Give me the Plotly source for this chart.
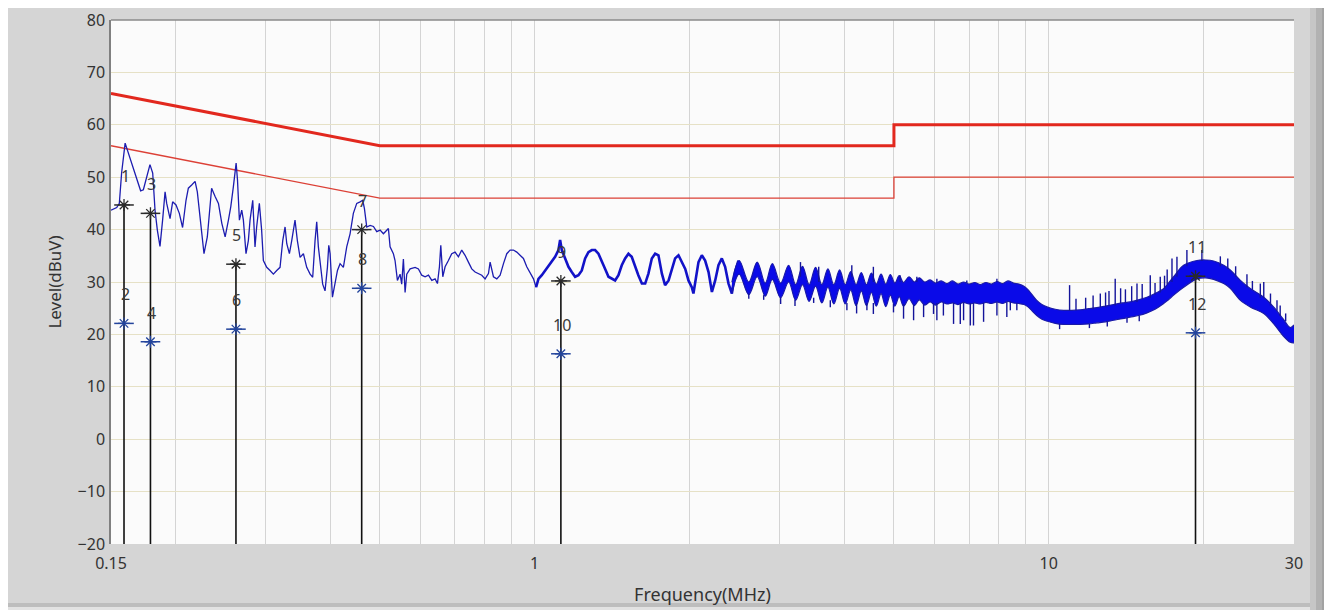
import math
import plotly.graph_objects as go

# ---------------- data ----------------
# measured trace, 0.15 - 1 MHz
freq_a = [0.150, 0.1539, 0.1557, 0.1573, 0.1598, 0.1622, 0.1646, 0.1683, 0.1713, 0.1734,
          0.1760, 0.1786, 0.1808, 0.1827, 0.1846, 0.1868, 0.1890, 0.1911, 0.1925, 0.1954,
          0.1977, 0.2007, 0.2037, 0.2067, 0.2099, 0.2121, 0.2153, 0.2186, 0.2208, 0.2235,
          0.2275, 0.2309, 0.2354, 0.2391, 0.2427, 0.2464, 0.2501, 0.2538, 0.2565, 0.2595,
          0.2627, 0.2643, 0.2666, 0.2694, 0.2714, 0.2746, 0.2775, 0.2796, 0.2830, 0.2859,
          0.2880, 0.2915, 0.2945, 0.2968, 0.3013, 0.3058, 0.3104, 0.3151, 0.3198, 0.3237,
          0.3271, 0.3296, 0.3335, 0.3370, 0.3420, 0.3456, 0.3498, 0.3551, 0.3604, 0.3659,
          0.3702, 0.3741, 0.3769, 0.3797, 0.3825, 0.3871, 0.3912, 0.3954, 0.3978, 0.4002,
          0.4044, 0.4093, 0.4136, 0.4185, 0.4247, 0.4311, 0.4376, 0.4441, 0.4509, 0.4577,
          0.4632, 0.4667, 0.4695, 0.4716, 0.4787, 0.4859, 0.4932, 0.5006, 0.5081, 0.5157,
          0.5196, 0.5235, 0.5313, 0.5353, 0.5410, 0.5475, 0.5515, 0.5557, 0.5599, 0.5641,
          0.5727, 0.5856, 0.5944, 0.6033, 0.6124, 0.6217, 0.6310, 0.6405, 0.6472, 0.6530,
          0.6570, 0.6629, 0.6698, 0.6798, 0.6900, 0.7004, 0.7109, 0.7216, 0.7325, 0.7435,
          0.7547, 0.7661, 0.7777, 0.7893, 0.8012, 0.8133, 0.8194, 0.8317, 0.8443, 0.8570,
          0.8699, 0.8829, 0.8962, 0.9097, 0.9233, 0.9372, 0.9513, 0.9656, 0.9802, 0.9950,
          1.0068]
level_a = [43.7, 44.2, 45.0, 50.8, 56.5, 54.6, 52.7, 49.5, 47.4, 47.6,
           49.8, 52.4, 50.8, 43.7, 39.9, 36.8, 41.8, 47.2, 45.0, 42.1,
           45.3, 44.7, 43.1, 40.4, 45.6, 47.9, 48.5, 49.2, 47.2, 41.8,
           35.4, 38.6, 47.9, 46.3, 45.0, 41.2, 38.6, 41.8, 44.4, 48.2,
           52.7, 49.5, 41.8, 43.7, 41.8, 35.4, 37.9, 41.8, 45.6, 36.7,
           40.5, 45.0, 39.9, 34.1, 32.8, 32.2, 31.5, 32.2, 32.8, 37.9,
           40.5, 37.3, 35.4, 37.9, 41.8, 37.9, 34.7, 35.4, 32.8, 31.5,
           30.9, 37.9, 41.5, 36.7, 34.1, 29.6, 28.3, 32.8, 37.0, 35.4,
           27.1, 30.3, 32.2, 33.5, 32.8, 36.7, 39.2, 43.1, 45.0, 45.3,
           45.6, 44.0, 41.5, 40.5, 40.8, 40.6, 39.6, 39.9, 39.2, 39.9,
           40.2, 36.7, 35.4, 34.1, 30.3, 31.5, 29.6, 34.4, 28.0, 31.5,
           32.5, 32.8, 32.5, 31.3, 31.0, 31.3, 30.3, 30.6, 29.7, 32.9,
           37.0, 31.0, 32.9, 34.1, 35.4, 35.7, 34.8, 36.1, 35.1, 33.8,
           32.5, 31.9, 31.6, 31.3, 30.6, 31.6, 33.8, 31.0, 30.6, 31.3,
           33.5, 35.4, 36.1, 36.1, 35.7, 35.1, 34.5, 32.9, 31.6, 30.6,
           29.0]

# measured trace, 1 - 2.5 MHz (ripple)
freq_b = [1.0068, 1.0175, 1.0328, 1.0483, 1.0640, 1.0800, 1.0963, 1.1128, 1.1211, 1.1296,
          1.1465, 1.1638, 1.1811, 1.1990, 1.2171, 1.2354, 1.2540, 1.2729, 1.2921, 1.3113,
          1.3311, 1.3512, 1.3716, 1.3923, 1.4133, 1.4342, 1.4558, 1.4777, 1.5000, 1.5225,
          1.5450, 1.5690, 1.5915, 1.6170, 1.6410, 1.6650, 1.6905, 1.7160, 1.7415, 1.7685,
          1.7940, 1.8225, 1.8495, 1.8765, 1.9050, 1.9335, 1.9635, 1.9920, 2.0220, 2.0370,
          2.0610, 2.0835, 2.1150, 2.1465, 2.1795, 2.2125, 2.2455, 2.2785, 2.3130, 2.3475,
          2.3835, 2.4195, 2.4555, 2.4915]
level_b = [29.0, 30.6, 31.3, 32.2, 33.2, 34.1, 34.8, 36.1, 38.0, 36.1,
           34.5, 32.9, 31.9, 31.0, 31.3, 32.2, 34.5, 35.7, 36.1, 36.1,
           35.4, 33.8, 32.5, 31.0, 30.6, 30.3, 31.3, 33.2, 34.5, 35.4,
           34.8, 32.9, 31.3, 29.7, 29.7, 31.6, 34.5, 35.4, 35.1, 31.6,
           29.4, 30.3, 32.5, 34.5, 35.1, 33.8, 32.5, 30.3, 29.0, 27.8,
           31.0, 33.8, 35.1, 34.1, 31.9, 28.1, 30.3, 33.2, 34.5, 32.9,
           29.7, 27.8, 31.9, 34.1]

# dense part of the trace, 2.4 - 30 MHz: upper and lower edge of the band
band_freq = [2.42, 2.50, 2.61, 2.71, 2.81, 2.90, 3.01, 3.12, 3.22, 3.32,
             3.42, 3.52, 3.62, 3.72, 3.82, 3.92, 4.02, 4.12, 4.22, 4.32,
             4.42, 4.52, 4.62, 4.72, 4.82, 4.92, 5.02, 5.12, 5.22, 5.35,
             5.48, 5.60, 5.74, 5.88, 6.02, 6.18, 6.34, 6.50, 6.66, 6.83,
             7.00, 7.18, 7.36, 7.55, 7.74, 7.93, 8.13, 8.33, 8.54, 8.75,
             8.95, 9.10, 9.28, 9.48, 9.70, 9.95, 10.3, 10.69, 11.1, 11.52,
             11.95, 12.41, 12.9, 13.37, 13.9, 14.40, 14.95, 15.53, 16.1, 16.73,
             17.1, 17.5, 18.3, 19.43, 20.2, 20.93, 21.9, 22.55, 23.6, 24.7,
             26.2, 27.4, 28.6, 29.5, 30.0]
band_upper = [30.0, 34.1, 30.0, 33.8, 29.8, 33.5, 29.8, 33.2, 29.5, 33.0,
              29.5, 32.8, 29.5, 32.5, 29.5, 32.3, 29.5, 32.0, 29.5, 31.8,
              29.5, 31.7, 29.6, 31.5, 29.6, 31.4, 29.8, 31.2, 29.9, 31.0,
              30.0, 30.8, 30.0, 30.4, 29.8, 30.2, 29.7, 30.2, 29.6, 30.0,
              29.6, 29.9, 29.5, 29.9, 29.6, 30.1, 29.7, 30.2, 29.8, 29.6,
              29.2, 28.6, 27.6, 26.5, 25.7, 25.2, 24.8, 24.6, 24.6, 24.7,
              24.9, 25.1, 25.4, 25.7, 26.0, 26.2, 26.6, 27.1, 27.8, 28.7,
              29.8, 31.0, 33.2, 34.1, 34.2, 34.0, 33.2, 32.3, 30.3, 28.7,
              27.1, 25.2, 22.9, 21.3, 21.8]
band_lower = [27.8, 31.5, 27.6, 31.0, 27.3, 30.5, 27.0, 30.0, 26.5, 29.5,
              26.3, 29.2, 26.0, 29.0, 25.8, 28.8, 25.8, 28.5, 25.5, 28.3,
              25.5, 28.0, 25.4, 27.8, 25.3, 27.5, 25.4, 27.2, 25.4, 26.8,
              25.5, 26.6, 25.6, 26.2, 25.6, 26.2, 25.8, 26.0, 25.7, 26.1,
              25.8, 26.0, 25.8, 26.1, 25.9, 26.2, 25.9, 26.3, 26.0, 25.9,
              25.7, 25.3, 24.5, 23.6, 22.9, 22.5, 22.1, 21.9, 21.9, 21.9,
              22.0, 22.2, 22.4, 22.7, 23.0, 23.3, 23.6, 24.1, 24.8, 25.9,
              26.6, 27.5, 29.0, 30.6, 30.8, 30.5, 29.7, 28.8, 26.5, 25.2,
              24.0, 22.0, 19.7, 18.5, 18.4]

# isolated spikes sticking out of the band: frequency, start level, end level
spike_freq = [2.61, 2.79, 3.01, 3.21, 3.29, 3.49, 3.57, 3.76, 4.05, 4.14,
              4.23, 4.43, 4.56, 4.56, 4.99, 5.14, 5.22, 5.46, 5.54, 5.71,
              5.97, 6.06, 6.06, 6.24, 6.53, 6.73, 6.83, 6.93, 7.04, 7.14,
              7.47, 7.93, 7.93, 8.29, 8.42, 8.67, 10.5, 10.98, 11.3, 11.8,
              12.0, 12.2, 12.6, 12.9, 13.0, 13.1, 13.47, 13.8, 14.1, 14.2,
              14.5, 14.85, 15.0, 15.2, 15.76, 16.1, 16.48, 16.8, 17.0, 17.37,
              17.76, 18.57, 19.86, 21.57, 22.3, 23.1, 24.3, 24.9, 25.8, 26.2,
              27.0, 27.8, 28.2, 28.9]
spike_from = [27.8, 27.5, 27.0, 26.6, 31.0, 27.0, 30.0, 26.5, 26.0, 31.0,
              26.0, 26.0, 26.0, 30.0, 25.8, 30.0, 25.8, 25.8, 30.0, 25.8,
              26.0, 26.0, 29.8, 26.0, 26.0, 26.0, 26.0, 29.8, 26.0, 26.0,
              26.0, 26.2, 30.0, 26.2, 26.3, 26.0, 22.0, 24.5, 24.6, 24.8,
              22.0, 24.8, 25.2, 25.2, 22.5, 25.5, 25.5, 25.9, 26.0, 23.2,
              26.3, 26.2, 23.6, 26.8, 27.0, 27.6, 28.0, 28.7, 29.5, 30.0,
              31.0, 33.0, 34.0, 33.0, 32.5, 31.0, 29.0, 28.5, 27.0, 27.0,
              25.5, 24.5, 23.5, 22.5]
spike_to = [26.8, 26.6, 25.8, 25.4, 33.8, 26.0, 32.9, 25.2, 24.6, 33.2,
            24.0, 24.6, 23.9, 32.9, 24.2, 31.3, 23.0, 22.7, 31.0, 23.3,
            23.9, 22.7, 30.6, 23.6, 22.0, 22.0, 22.7, 30.3, 21.7, 21.7,
            22.4, 23.6, 30.6, 23.3, 24.6, 24.6, 21.0, 29.4, 26.8, 27.0,
            21.2, 27.4, 27.8, 28.0, 21.5, 28.3, 30.6, 28.8, 28.6, 22.2,
            29.2, 29.7, 22.5, 29.6, 31.3, 29.8, 31.0, 31.2, 32.4, 34.5,
            34.8, 36.1, 36.1, 34.9, 34.5, 33.0, 31.5, 30.2, 29.7, 30.0,
            27.8, 26.5, 25.5, 24.0]

# limit lines (CISPR 22 class B, QP and AV)
limit_freq = [0.15, 0.5, 5.0, 5.0, 30.0]
limit_qp = [66, 56, 56, 60, 60]
limit_av = [56, 46, 46, 50, 50]

# numbered markers (odd = QP, even = AV)
marker_num = ["1", "2", "3", "4", "5", "6", "7", "8", "9", "10", "11", "12"]
marker_freq = [0.159, 0.159, 0.179, 0.179, 0.2625, 0.2625, 0.461, 0.461, 1.125, 1.125, 19.3, 19.3]
marker_level = [44.7, 22.1, 43.1, 18.6, 33.4, 21.0, 40.0, 28.8, 30.2, 16.3, 31.1, 20.3]

# axes
x_tickvals = [0.15, 1, 10, 30]
x_ticktext = ["0.15", "1", "10", "30"]
x_minor = [0.2, 0.3, 0.4, 0.5, 0.6, 0.7, 0.8, 0.9, 2, 3, 4, 5, 6, 7, 8, 9, 20]
y_min, y_max = -20, 80

# ---------------- figure ----------------
# page is 1332x610; the html body has an 8 px margin, so the figure starts at (8, 8)
PAGE_W, PAGE_H, OFF = 1332, 610, 8
W, H = PAGE_W - OFF, PAGE_H - OFF
PL, PR, PT, PB = 111, 1294, 20, 544      # plot area in page pixels

def px(x):
    return (x - PL) / (PR - PL)

def py(y):
    return (PB - y) / (PB - PT)

fig = go.Figure()

# limit lines
fig.add_trace(go.Scatter(x=limit_freq, y=limit_av, mode="lines",
                         line=dict(color="#dc4036", width=1.3), hoverinfo="skip"))
fig.add_trace(go.Scatter(x=limit_freq, y=limit_qp, mode="lines",
                         line=dict(color="#e2281e", width=3), hoverinfo="skip"))

# trace
fig.add_trace(go.Scatter(x=freq_a, y=level_a, mode="lines",
                         line=dict(color="#1c1cb0", width=1.3)))
fig.add_trace(go.Scatter(x=freq_b, y=level_b, mode="lines",
                         line=dict(color="#1212c8", width=2.6)))
fig.add_trace(go.Scatter(x=band_freq, y=band_lower, mode="lines",
                         line=dict(color="#1a1aa8", width=1.2, shape="spline", smoothing=1.0)))
fig.add_trace(go.Scatter(x=band_freq, y=band_upper, mode="lines", fill="tonexty",
                         fillcolor="#0a0ae8",
                         line=dict(color="#1a1aa8", width=1.2, shape="spline", smoothing=1.0)))

sx, sy = [], []
for f, a, b in zip(spike_freq, spike_from, spike_to):
    sx += [f, f, None]
    sy += [a, b, None]
fig.add_trace(go.Scatter(x=sx, y=sy, mode="lines",
                         line=dict(color="#14149a", width=1.4)))

# marker drop lines (from the QP marker down to the axis floor)
vx, vy = [], []
for i in range(0, len(marker_freq), 2):
    vx += [marker_freq[i], marker_freq[i], None]
    vy += [marker_level[i], y_min, None]
fig.add_trace(go.Scatter(x=vx, y=vy, mode="lines",
                         line=dict(color="#111111", width=1.6)))

qp_x = marker_freq[0::2]
qp_y = marker_level[0::2]
av_x = marker_freq[1::2]
av_y = marker_level[1::2]
for xs, ys, col in ((qp_x, qp_y, "#2a2a2a"), (av_x, av_y, "#23449c")):
    fig.add_trace(go.Scatter(x=xs, y=ys, mode="markers",
                             marker=dict(symbol="line-ew-open", size=14, color=col,
                                         line=dict(color=col, width=1.5))))
    fig.add_trace(go.Scatter(x=xs, y=ys, mode="markers",
                             marker=dict(symbol="asterisk-open", size=10, color=col,
                                         line=dict(color=col, width=1.3))))

for n, f, v in zip(marker_num, marker_freq, marker_level):
    fig.add_annotation(x=math.log10(f), y=v, text=n, showarrow=False, yshift=29, xshift=1,
                       font=dict(family="Noto Sans", size=16, color="#3a3a3a"))

# frame decoration around the chart (page pixel positions)
shapes = []
def rect(x0, y0, x1, y1, color):
    shapes.append(dict(type="rect", xref="paper", yref="paper",
                       x0=px(x0), x1=px(x1), y0=py(y1), y1=py(y0),
                       fillcolor=color, line=dict(width=0), layer="above"))
rect(1310, OFF, 1316, PAGE_H, "#c6c6c6")
rect(1316, OFF, 1322, PAGE_H, "#b2b2b2")
rect(1322, OFF, 1328, PAGE_H, "#a2a2a2")
rect(1328, OFF, PAGE_W, PAGE_H, "#969696")
rect(OFF, 603, 1310, 607, "#bdbdbd")
rect(OFF, 607, 1310, PAGE_H, "#e2e2e2")
shapes.append(dict(type="line", xref="paper", yref="paper", x0=0, x1=1, y0=1, y1=1,
                   line=dict(color="#8a8a8a", width=1.5), layer="above"))

fig.update_layout(
    width=W, height=H,
    margin=dict(l=PL - OFF, r=PAGE_W - PR, t=PT - OFF, b=PAGE_H - PB, autoexpand=False),
    paper_bgcolor="#d5d5d5",
    plot_bgcolor="#fbfbfb",
    showlegend=False,
    shapes=shapes,
    font=dict(family="Noto Sans", color="#333333"),
    xaxis=dict(
        type="log", range=[math.log10(0.15), math.log10(30)],
        tickvals=x_tickvals, ticktext=x_ticktext,
        showgrid=True, gridcolor="#d4d4d4", gridwidth=1,
        minor=dict(tickvals=x_minor, showgrid=True, gridcolor="#d4d4d4", gridwidth=1, ticklen=0),
        ticks="outside", ticklen=5, tickcolor="rgba(0,0,0,0)",
        tickfont=dict(family="Noto Sans", size=16, color="#333333"),
        showline=False, zeroline=False,
        title=dict(text="Frequency(MHz)", standoff=15,
                   font=dict(family="Noto Sans", size=18, color="#333333")),
    ),
    yaxis=dict(
        range=[y_min, y_max], dtick=10, tick0=0,
        showgrid=True, gridcolor="#e6e1c6", gridwidth=1,
        ticks="outside", ticklen=1, tickcolor="rgba(0,0,0,0)",
        tickfont=dict(family="Noto Sans", size=16, color="#333333"),
        showline=True, linecolor="#808080", linewidth=1.5,
        zeroline=False,
        title=dict(text="Level(dBuV)", standoff=12,
                   font=dict(family="Noto Sans", size=17, color="#333333")),
    ),
)

fig.write_html("out.html")
